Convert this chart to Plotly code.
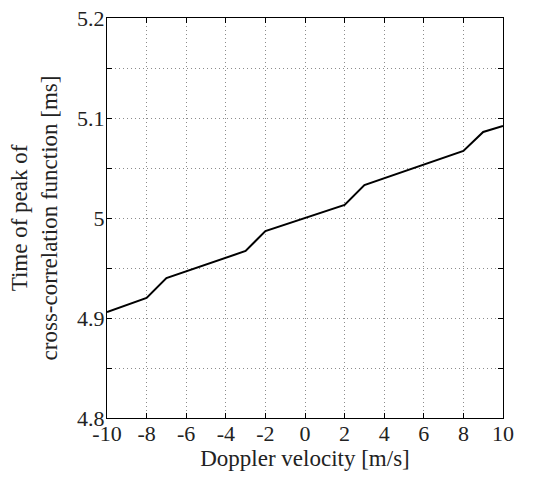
import plotly.graph_objects as go

velocity = [-10, -8, -7, -3, -2, 2, 3, 8, 9, 10]
peak_time = [4.906, 4.920, 4.940, 4.967, 4.987, 5.013, 5.033, 5.067, 5.086, 5.092]

x_ticks = [-10, -8, -6, -4, -2, 0, 2, 4, 6, 8, 10]
x_labels = ["-10", "-8", "-6", "-4", "-2", "0", "2", "4", "6", "8", "10"]
y_ticks = [4.8, 4.85, 4.9, 4.95, 5.0, 5.05, 5.1, 5.15, 5.2]
y_labels = ["4.8", "", "4.9", "", "5", "", "5.1", "", "5.2"]

FONT = "Liberation Serif, Times New Roman, serif"
TXT = "#222222"

fig = go.Figure()
fig.add_trace(go.Scatter(x=velocity, y=peak_time, mode="lines",
                         line=dict(color="black", width=2), showlegend=False))

axis_common = dict(
    showline=True, linecolor="black", linewidth=1, mirror="ticks",
    ticks="inside", ticklen=5, tickcolor="black", automargin=False,
    ticklabeloverflow="allow",
    showgrid=True, gridcolor="#8c8c8c", griddash="1px,3px", gridwidth=1,
    zeroline=False, tickfont=dict(family=FONT, size=22, color=TXT),
)

fig.update_xaxes(range=[-10, 10], tickvals=x_ticks, ticktext=x_labels,
                 ticklabelstandoff=-4,
                 title=dict(text="Doppler velocity [m/s]", standoff=2,
                            font=dict(family=FONT, size=23, color=TXT)),
                 **axis_common)
fig.update_yaxes(range=[4.8, 5.2], tickvals=y_ticks, ticktext=y_labels,
                 ticklabelstandoff=-3,
                 title=dict(text="Time of peak of<br>cross-correlation function [ms]",
                            standoff=13, font=dict(family=FONT, size=23, color=TXT)),
                 **axis_common)

fig.update_layout(
    width=533, height=477,
    margin=dict(l=107, r=30, t=18, b=59),
    plot_bgcolor="white", paper_bgcolor="white",
    font=dict(family=FONT, size=22, color=TXT),
)

fig.write_html("out.html",
               config={"displayModeBar": False},
               post_script="document.body.style.margin='0';document.body.style.overflow='hidden';")
